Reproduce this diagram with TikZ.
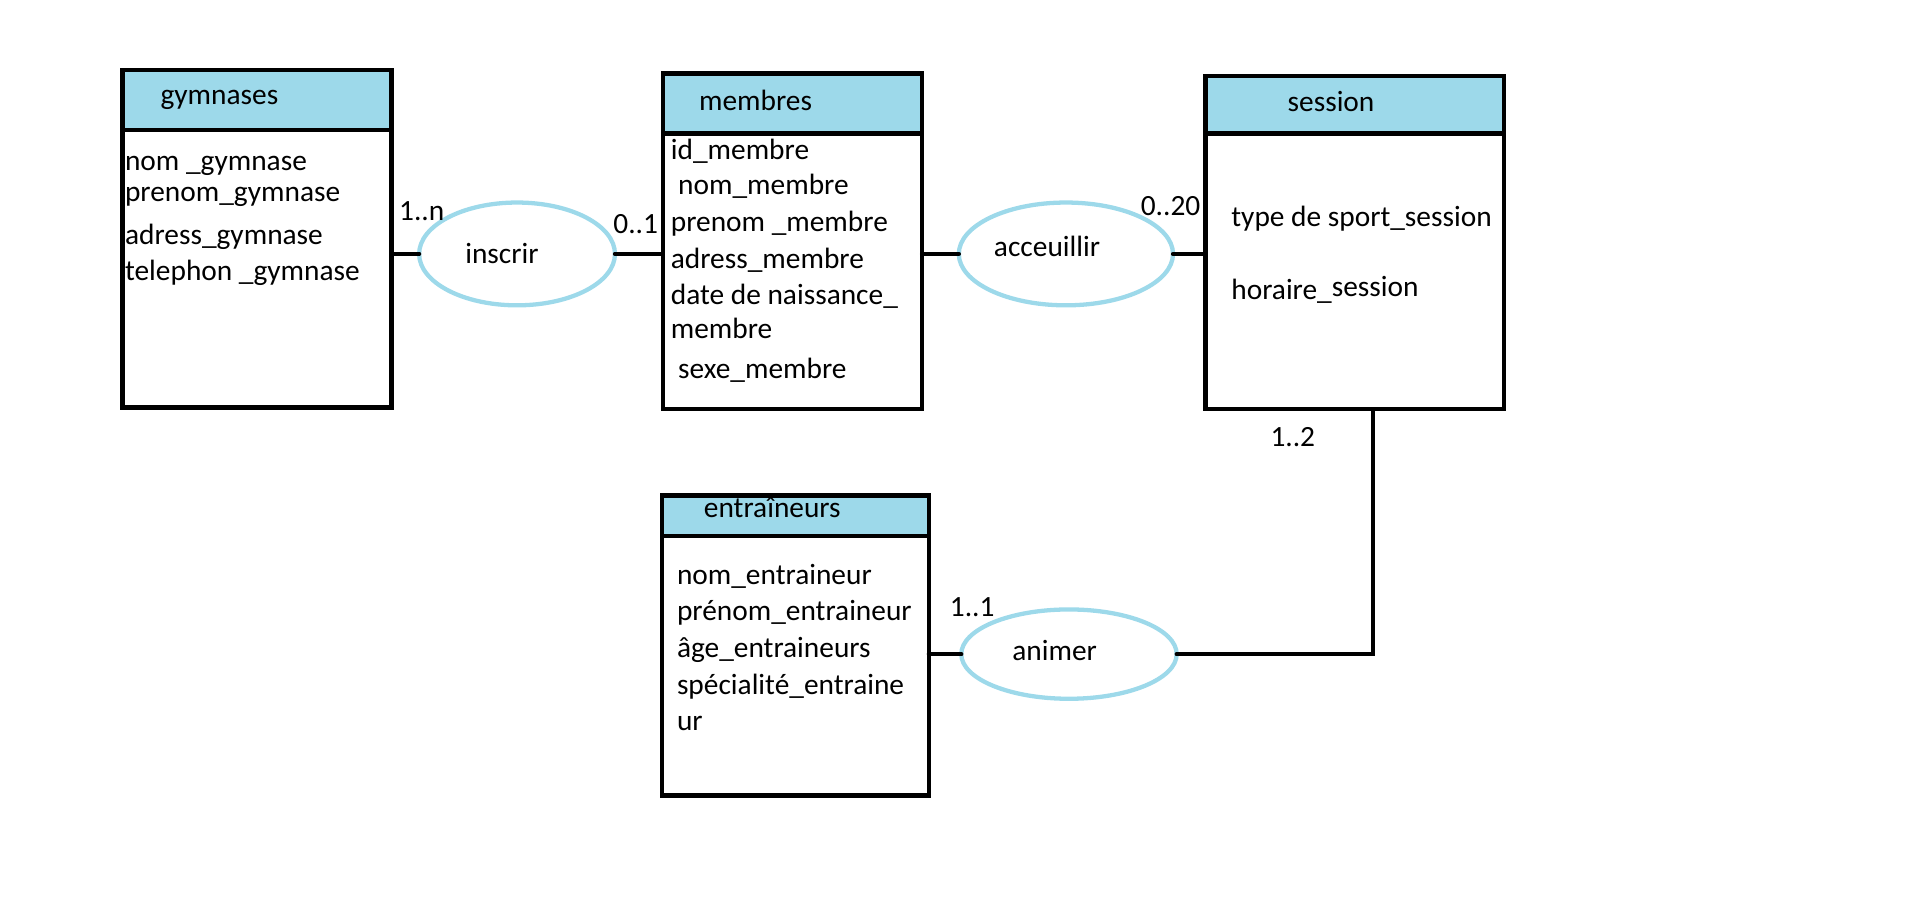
\documentclass[tikz,border=0pt]{standalone}
\usepackage{fontspec}
\setmainfont{Carlito}
\usetikzlibrary{shapes.geometric}
\definecolor{erblue}{RGB}{157,217,234}
\tikzset{
	head/.style  = {draw, line width=3.5pt, fill=erblue, rectangle, anchor=north west,
		inner sep=0pt, outer sep=0pt},
	body/.style  = {draw, line width=3.5pt, rectangle, anchor=north west,
		inner sep=0pt, outer sep=0pt},
	rel/.style   = {draw=erblue, line width=3.5pt, ellipse, inner sep=0pt, outer sep=0pt},
	txt/.style   = {anchor=base west, inner sep=0pt, font=\fontsize{24}{29}\selectfont}, % labels
	link/.style  = {draw, line width=3.5pt, line cap=round} % connectors
}

\begin{document}
\begin{tikzpicture}[x=1pt, y=-1pt]
	\useasboundingbox (0,0) rectangle (1564,738);
	\draw
	node at (100,57)[head, minimum width=220, minimum height=49] (gymH) {}
	node at (100,106)[body, minimum width=220, minimum height=227] (gymB) {}
	node at (541.5,60)[head, minimum width=212, minimum height=49] (memH) {}
	node at (541.5,109)[body, minimum width=212, minimum height=225.5] (memB) {}
	node at (985,62)[head, minimum width=244, minimum height=47] (sesH) {}
	node at (985,109)[body, minimum width=244, minimum height=225.5] (sesB) {}
	node at (541,405)[head, minimum width=218, minimum height=33] (entH) {}
	node at (541,438)[body, minimum width=218, minimum height=212] (entB) {};
	
	\draw
	node at (422.5,207.5)[rel, minimum width=160, minimum height=84] (inscrir) {}
	node at (871,207.5)[rel, minimum width=175, minimum height=84] (acc) {}
	node at (873.5,534.5)[rel, minimum width=176, minimum height=73] (animer) {};
	
	% titles
	\node[txt] (gymT) at (131,85) {gymnases};
	\node[txt] (memT) at (571,90) {membres};
	\node[txt] (sesT) at (1052,91.4) {session};
	\node[txt] (entT) at (575,423) {entraîneurs};
	
	% attributes
	\foreach \x/\y/\t [count=\i] in {102/139/nom \_gymnase, 102/164.8/prenom\_gymnase,
		102/200/adress\_gymnase, 102/229.6/telephon \_gymnase}
		\node[txt] (gymA\i) at (\x,\y) {\t};
	\foreach \x/\y/\t [count=\i] in {548/130/id\_membre, 554/159/nom\_membre,
		548/189.3/prenom \_membre, 548/219/adress\_membre, 548/249/date de naissance\_,
		548/277/membre, 554/309/sexe\_membre}
		\node[txt] (memA\i) at (\x,\y) {\t};
	\foreach \x/\y/\t [count=\i] in {1006/185/type de sport\_session,
		1006/245/horaire\_\raisebox{3pt}{session}}
		\node[txt] (sesA\i) at (\x,\y) {\t};
	\foreach \x/\y/\t [count=\i] in {553/477.5/nom\_entraineur, 553/507.4/prénom\_entraineur,
		553/537.4/âge\_entraineurs, 553/567.4/spécialité\_entraine, 553/597.3/ur}
		\node[txt] (entA\i) at (\x,\y) {\t};
	
	% relations
	\node[txt] (inscrirT) at (380,215) {inscrir};
	\node[txt] (accT) at (812,210) {acceuillir};
	\node[txt] (animerT) at (827,539.6) {animer};
	
	\coordinate (bend) at (1122,533);
	\draw[link] (gymB.east |- inscrir.west) -- (inscrir.west);
	\draw[link] (inscrir.east) -- (inscrir.east -| memB.west);
	\draw[link] (memB.east |- acc.west) -- (acc.west);
	\draw[link] (acc.east) -- (acc.east -| sesB.west);
	\draw[link] (sesB.south -| bend) -- (animer.east -| bend) -- (animer.east);
	\draw[link] (entB.east |- animer.west) -- (animer.west);
	
	% cardinalities
	\node[txt] (c1) at (326,180) {1..n};
	\node[txt] (c2) at (501,190.7) {0..1};
	\node[txt] (c3) at (932,176.5) {0..20};
	\node[txt] (c4) at (1038,365) {1..2};
	\node[txt] (c5) at (776,504) {1..1};
\end{tikzpicture}
\end{document}
